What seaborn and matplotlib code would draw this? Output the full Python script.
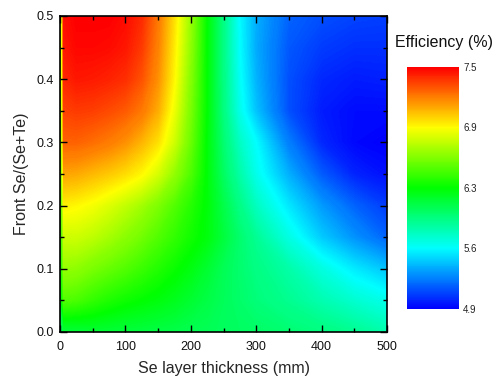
import numpy as np
import matplotlib
matplotlib.use("Agg")
import matplotlib.pyplot as plt
import seaborn as sns
from matplotlib.ticker import MultipleLocator
from matplotlib.colors import Normalize
from matplotlib.cm import ScalarMappable

# ---- data ----
thickness = [0, 6, 25, 50, 75, 100, 125, 150, 175, 200, 225, 250, 275, 300, 350, 400, 450, 500]
se_ratio = [0.00, 0.05, 0.10, 0.15, 0.20, 0.25, 0.30, 0.35, 0.40, 0.45, 0.50]

eff_y000 = [5.95, 6.05, 6.05, 6.07, 6.06, 6.05, 6.04, 6.03, 6.02, 6.00, 5.99, 5.97, 5.96, 5.95, 5.92, 5.88, 5.83, 5.76]
eff_y005 = [6.05, 6.40, 6.38, 6.32, 6.27, 6.23, 6.20, 6.17, 6.13, 6.08, 6.03, 5.98, 5.94, 5.90, 5.83, 5.75, 5.67, 5.60]
eff_y010 = [6.10, 6.58, 6.56, 6.50, 6.45, 6.40, 6.34, 6.28, 6.22, 6.16, 6.08, 5.99, 5.93, 5.87, 5.77, 5.63, 5.50, 5.40]
eff_y015 = [6.15, 6.72, 6.72, 6.68, 6.62, 6.55, 6.48, 6.40, 6.32, 6.24, 6.17, 6.05, 5.93, 5.82, 5.62, 5.42, 5.28, 5.15]
eff_y020 = [6.20, 6.88, 6.86, 6.82, 6.76, 6.69, 6.61, 6.51, 6.40, 6.29, 6.18, 6.02, 5.86, 5.71, 5.49, 5.30, 5.15, 5.05]
eff_y025 = [6.20, 7.07, 7.06, 7.02, 6.98, 6.93, 6.86, 6.74, 6.57, 6.39, 6.18, 5.96, 5.77, 5.60, 5.35, 5.13, 4.99, 4.94]
eff_y030 = [6.20, 7.25, 7.25, 7.22, 7.18, 7.12, 7.03, 6.92, 6.72, 6.46, 6.18, 5.92, 5.70, 5.55, 5.22, 5.00, 4.92, 4.90]
eff_y035 = [6.20, 7.33, 7.35, 7.34, 7.31, 7.27, 7.19, 7.05, 6.80, 6.50, 6.19, 5.88, 5.60, 5.40, 5.10, 4.97, 4.93, 4.93]
eff_y040 = [6.22, 7.40, 7.44, 7.43, 7.41, 7.38, 7.29, 7.12, 6.86, 6.53, 6.19, 5.87, 5.57, 5.36, 5.10, 5.00, 4.97, 4.98]
eff_y045 = [6.25, 7.44, 7.48, 7.48, 7.47, 7.44, 7.35, 7.16, 6.89, 6.56, 6.19, 5.86, 5.55, 5.34, 5.12, 5.05, 5.02, 5.02]
eff_y050 = [6.25, 7.46, 7.50, 7.50, 7.50, 7.47, 7.39, 7.19, 6.92, 6.58, 6.19, 5.86, 5.54, 5.35, 5.15, 5.10, 5.07, 5.06]

cbar_ticks = [4.9, 5.55, 6.2, 6.85, 7.5]
cbar_labels = ["4.9", "5.6", "6.3", "6.9", "7.5"]
x_ticks = [0, 100, 200, 300, 400, 500]
y_ticks = [0.0, 0.1, 0.2, 0.3, 0.4, 0.5]
y_tick_labels = ["0.0", "0.1", "0.2", "0.3", "0.4", "0.5"]

# ---- style ----
sns.set_style("ticks")
plt.rcParams["font.family"] = ["Liberation Sans", "DejaVu Sans"]

cmap = sns.blend_palette(["#0000ff", "#00ffff", "#00ff00", "#ffff00", "#ff0000"],
                         n_colors=256, as_cmap=True)
vmin, vmax = 4.9, 7.5

fig = plt.figure(figsize=(4.98, 3.77), dpi=100)
ax = fig.add_axes([60 / 498, 1 - 332 / 377, 327 / 498, 316 / 377])
ax.set_axisbelow(False)

efficiency = np.array([eff_y000, eff_y005, eff_y010, eff_y015, eff_y020, eff_y025,
                       eff_y030, eff_y035, eff_y040, eff_y045, eff_y050])
X, Y = np.meshgrid(thickness, se_ratio)
levels = np.linspace(vmin, vmax, 261)
ax.contourf(X, Y, efficiency, levels=levels, cmap=cmap, extend="both",
            antialiased=False, zorder=0)

ax.set_xlim(0, 500)
ax.set_ylim(0, 0.5)
ax.set_xticks(x_ticks)
ax.set_yticks(y_ticks)
ax.set_yticklabels(y_tick_labels)
ax.xaxis.set_minor_locator(MultipleLocator(50))
ax.yaxis.set_minor_locator(MultipleLocator(0.05))
ax.tick_params(which="both", direction="in", top=True, right=True,
               color="black", width=1.0)
ax.tick_params(which="major", length=5)
ax.tick_params(which="minor", length=3)
ax.tick_params(axis="x", labelsize=9, pad=6.5, labelcolor="#111111")
ax.tick_params(axis="y", labelsize=9, pad=4.5, labelcolor="#111111")
for sp in ax.spines.values():
    sp.set_visible(True)
    sp.set_linewidth(1.2)
    sp.set_color("black")
    sp.set_zorder(5)

ax.set_xlabel("Se layer thickness (mm)", fontsize=11.5, labelpad=6)
ax.set_ylabel("Front Se/(Se+Te)", fontsize=11.5, labelpad=5)

# colorbar
cax = fig.add_axes([407 / 498, 1 - 309 / 377, 52 / 498, 242 / 377])
sm = ScalarMappable(norm=Normalize(vmin, vmax), cmap=cmap)
cb = fig.colorbar(sm, cax=cax)
cb.set_ticks(cbar_ticks)
cb.set_ticklabels(cbar_labels)
cax.tick_params(length=0, labelsize=7, pad=3, colors="#222222")
cb.outline.set_visible(False)

fig.text(444 / 498, 1 - 42 / 377, "Efficiency (%)", ha="center", va="center",
         fontsize=11.5, color="#111111")

fig.savefig("out.png", dpi=100)
